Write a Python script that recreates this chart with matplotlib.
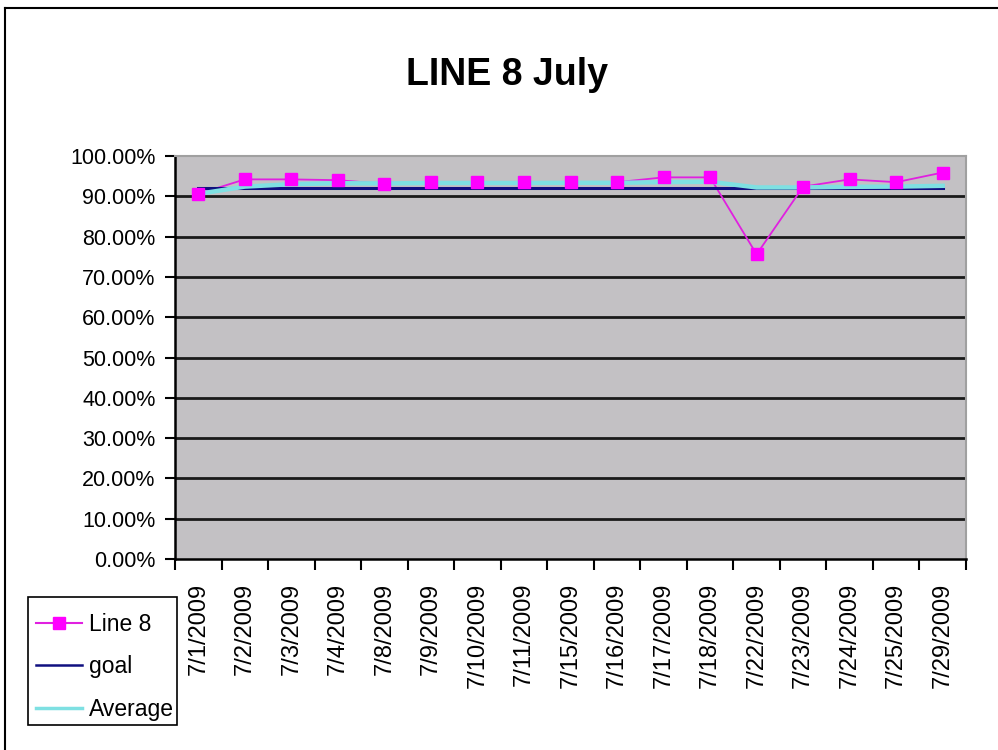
import matplotlib
matplotlib.use("Agg")
import matplotlib.pyplot as plt
from matplotlib.lines import Line2D
from matplotlib.patches import Rectangle
from matplotlib.ticker import FixedLocator, FuncFormatter

plt.rcParams['font.family'] = ['Liberation Sans', 'DejaVu Sans']

# Daily dates for July 2009
dates = ["7/1/2009", "7/2/2009", "7/3/2009", "7/4/2009", "7/8/2009", "7/9/2009",
         "7/10/2009", "7/11/2009", "7/15/2009", "7/16/2009", "7/17/2009",
         "7/18/2009", "7/22/2009", "7/23/2009", "7/24/2009", "7/25/2009",
         "7/29/2009"]

# Efficiency of Line 8 (%)
line8 = [90.6, 94.2, 94.2, 94.0, 93.1, 93.5, 93.5, 93.5, 93.5, 93.5, 94.7,
         94.7, 75.6, 92.4, 94.2, 93.5, 95.9]

# Target value (%)
goal = [92.0] * len(dates)

# Running average (%)
average = [90.6, 92.4, 93.0, 93.25, 93.2, 93.3, 93.3, 93.3, 93.35, 93.35,
           93.5, 93.6, 92.2, 92.2, 92.35, 92.4, 92.6]

y_ticks = [0, 10, 20, 30, 40, 50, 60, 70, 80, 90, 100]

W, H = 998, 750
fig = plt.figure(figsize=(W / 100, H / 100), dpi=100)
fig.patch.set_facecolor('white')

left, right, top, bottom = 175, 966, 156, 559
ax = fig.add_axes([left / W, 1 - bottom / H, (right - left) / W, (bottom - top) / H])
ax.set_facecolor('#c3c1c4')

x = list(range(len(dates)))

# Horizontal gridlines
for yv in y_ticks[1:-1]:
    ax.axhline(yv, color='#1a1a1a', lw=2.0, zorder=1)

l8_line, = ax.plot(x, line8, color='#e020e0', lw=1.3, zorder=2)
goal_line, = ax.plot(x, goal, color='#101080', lw=2.2, zorder=3)
avg_line, = ax.plot(x, average, color='#7ee0e2', lw=3.2, zorder=4)
ax.plot(x, line8, ls='none', marker='s', markersize=8.5, color='#ff00ff',
        markeredgecolor='#ff00ff', zorder=5)

ax.set_xlim(-0.5, len(dates) - 0.5)
ax.set_ylim(0, 100)

# Category boundaries carry the tick marks, centres carry the labels
ax.xaxis.set_major_locator(FixedLocator([i - 0.5 for i in range(len(dates) + 1)]))
ax.xaxis.set_major_formatter(FuncFormatter(lambda v, p: ''))
ax.xaxis.set_minor_locator(FixedLocator(x))
ax.set_xticklabels(dates, minor=True, rotation=90, fontsize=17)
ax.tick_params(axis='x', which='major', direction='out', length=8, width=1.5, color='black')
ax.tick_params(axis='x', which='minor', length=0, pad=17)

ax.set_yticks(y_ticks)
ax.set_yticklabels([f"{v:.2f}%" for v in y_ticks], fontsize=15.5)
ax.tick_params(axis='y', direction='out', length=7, width=1.5, pad=7, color='black')

for side in ('left', 'bottom'):
    ax.spines[side].set_color('black')
    ax.spines[side].set_linewidth(1.8)
for side in ('top', 'right'):
    ax.spines[side].set_color('#a0a0a0')
    ax.spines[side].set_linewidth(1.5)

fig.text(507 / W, 1 - 75 / H, "LINE 8 July", ha='center', va='center',
         fontsize=27, fontweight='bold')

# Legend box with a fixed frame; the entries sit inside it
fig.add_artist(Rectangle((28 / W, 1 - 725 / H), (177 - 28) / W, (725 - 597) / H,
                         transform=fig.transFigure, facecolor='white',
                         edgecolor='black', lw=1.2, zorder=3))
handles = [Line2D([], [], color='#e020e0', lw=1.5, marker='s', markersize=8.5,
                  markerfacecolor='#ff00ff', markeredgecolor='#ff00ff'),
           Line2D([], [], color='#101080', lw=1.8),
           Line2D([], [], color='#7ee0e2', lw=2.5)]
leg = fig.legend(handles, ["Line 8", "goal", "Average"], loc='upper left',
                 bbox_to_anchor=(29 / W, 1 - 606 / H), fontsize=16.5,
                 frameon=False, handlelength=2.0, handletextpad=0.3,
                 labelspacing=0.85, borderpad=0.3, borderaxespad=0)
leg.set_zorder(4)

# Chart-area outline along the left and top edges
fig.add_artist(Line2D([5 / W, 5 / W], [0, 1 - 8 / H], transform=fig.transFigure,
                      color='black', lw=1.5))
fig.add_artist(Line2D([5 / W, 1], [1 - 8 / H, 1 - 8 / H], transform=fig.transFigure,
                      color='black', lw=1.5))

fig.savefig("out.png", dpi=100)
